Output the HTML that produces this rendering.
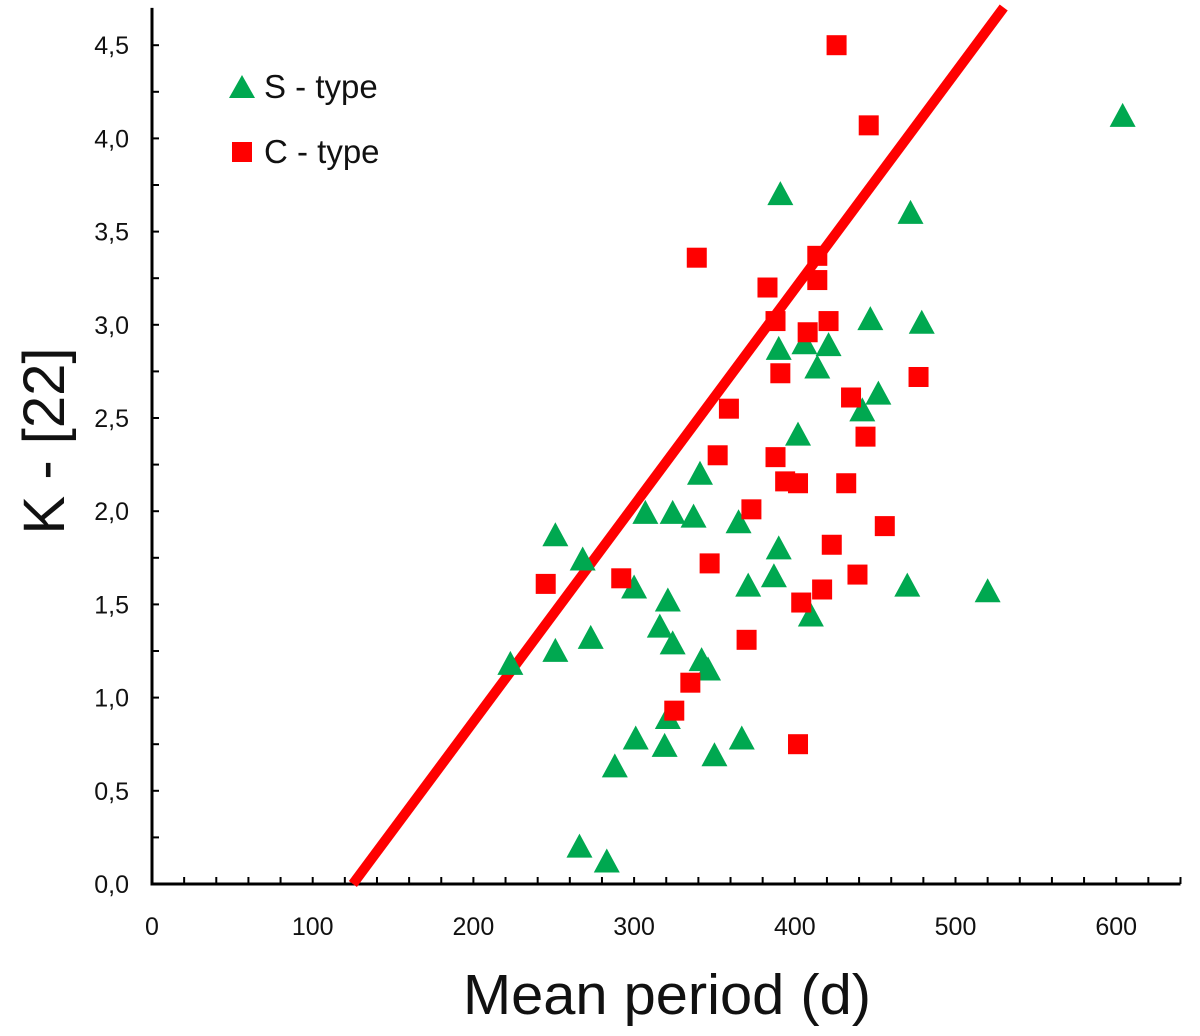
<!DOCTYPE html>
<html><head><meta charset="utf-8"><style>
body{margin:0;background:#fff}
svg text{font-family:"Liberation Sans","DejaVu Sans",sans-serif;fill:#111}
</style></head><body>
<svg id="chart" width="1200" height="1031" viewBox="0 0 1200 1031" xmlns="http://www.w3.org/2000/svg">
<g id="axes"></g>
<g id="fitline"></g>
<g id="marks"></g>
<g id="legend">
  <polygon points="229,98 255,98 242,75" fill="#00a850"/>
  <text x="264" y="98" font-size="33">S - type</text>
  <rect x="232" y="142" width="20" height="20" fill="#ff0000"/>
  <text x="264" y="163" font-size="33">C - type</text>
</g>
<text x="667" y="1014" font-size="57" text-anchor="middle" textLength="408" lengthAdjust="spacingAndGlyphs">Mean period (d)</text>
<text transform="translate(64,441) rotate(-90)" font-size="58" text-anchor="middle">K - [22]</text>
</svg>
<script>
const sTypeX=[223,251,251,268,273,266,283,288,301,300,307,316,319,321,321,324,324,337,341,342,346,350,365,367,371,387,390,390,391,402,406,410,414,421,442,447,452,470,472,479,520,604];
const sTypeY=[1.17,1.86,1.24,1.73,1.31,0.19,0.11,0.62,0.77,1.58,1.98,1.37,0.73,1.51,0.88,1.98,1.28,1.96,2.19,1.19,1.14,0.68,1.93,0.77,1.59,1.64,1.79,2.86,3.69,2.40,2.89,1.43,2.76,2.88,2.53,3.02,2.62,1.59,3.59,3.00,1.56,4.11];
const cTypeX=[245,292,325,335,339,347,352,359,370,373,383,388,388,391,394,402,402,404,408,414,414,417,421,423,426,432,435,439,444,446,456,477];
const cTypeY=[1.61,1.64,0.93,1.08,3.36,1.72,2.30,2.55,1.31,2.01,3.20,3.02,2.29,2.74,2.16,2.15,0.75,1.51,2.96,3.37,3.24,1.58,3.02,1.82,4.50,2.15,2.61,1.66,2.40,4.07,1.92,2.72];
const xTicks=[0,100,200,300,400,500,600];
const yTicks=[0,0.5,1,1.5,2,2.5,3,3.5,4,4.5];
const fitX=[125,530];
const fitSlope=[0.01161];
const NS='http://www.w3.org/2000/svg';
const X0=152,Y0=884,XS=1.607,YS=186.4,XMAX=640,YMAX=4.7;
const sx=v=>X0+v*XS, sy=v=>Y0-v*YS;
function mk(tag,attrs,parent){const e=document.createElementNS(NS,tag);for(const k in attrs)e.setAttribute(k,attrs[k]);parent.appendChild(e);return e;}
const ax=document.getElementById('axes');
let e=mk('line',{x1:X0,y1:sy(YMAX),x2:X0,y2:Y0+1.5,stroke:'#000','stroke-width':3},ax);


e=mk('line',{x1:X0-1.5,y1:Y0,x2:sx(XMAX),y2:Y0,stroke:'#000','stroke-width':3},ax);


for(let v=20;v<=XMAX;v+=20){
  e=mk('line',{x1:sx(v),y1:Y0,x2:sx(v),y2:Y0-7,stroke:'#000','stroke-width':2},ax);
  
  
}
for(let v=0.25;v<=YMAX;v+=0.25){
  e=mk('line',{x1:X0,y1:sy(v),x2:X0+7,y2:sy(v),stroke:'#000','stroke-width':2},ax);
  
  
}
xTicks.forEach(v=>{
  const t=mk('text',{x:sx(v),y:935,'font-size':25,'text-anchor':'middle'},ax);
  t.textContent=String(v);
  
  
});
yTicks.forEach(v=>{
  const t=mk('text',{x:129,y:sy(v)+9,'font-size':25,'text-anchor':'end'},ax);
  t.textContent=v.toFixed(1).replace('.',',');
  
  
});
const fl=document.getElementById('fitline');
const fy=x=>(x-fitX[0])*fitSlope[0];
e=mk('line',{x1:sx(fitX[0]),y1:sy(fy(fitX[0])),x2:sx(fitX[1]),y2:sy(fy(fitX[1])),stroke:'#ff0000','stroke-width':10},fl);


const mg=document.getElementById('marks');
sTypeX.forEach((x,i)=>{
  const cx=sx(x),cy=sy(sTypeY[i]);
  const p=mk('polygon',{points:`${cx-13},${cy+9} ${cx+13},${cy+9} ${cx},${cy-15}`,fill:'#00a850'},mg);
  
  
});
cTypeX.forEach((x,i)=>{
  const cx=sx(x),cy=sy(cTypeY[i]);
  const r=mk('rect',{x:cx-10,y:cy-10,width:20,height:20,fill:'#ff0000'},mg);
  
  
});
</script>
</body></html>
